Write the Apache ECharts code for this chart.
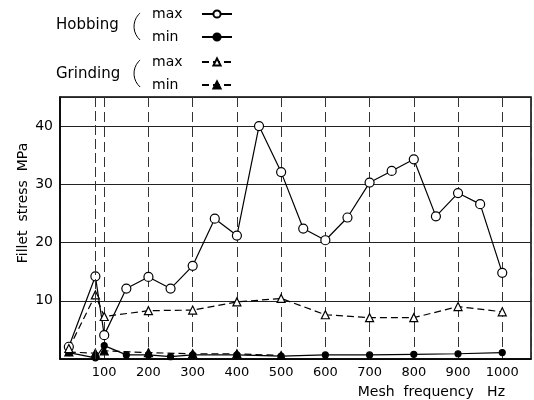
<!DOCTYPE html>
<html>
<head>
<meta charset="utf-8">
<script src="https://cdn.jsdelivr.net/npm/echarts@6/dist/echarts.min.js"></script>
<style>html,body{margin:0;padding:0;background:#fff;}#c{width:534px;height:400px;}</style>
</head>
<body>
<div id="c"></div>
<script>
var hobbingMax = [[20,2.1],[80,14.2],[100,4.1],[150,12.1],[200,14.1],[250,12.1],[300,16.0],[350,24.1],[400,21.2],[450,40.0],[500,32.1],[550,22.4],[600,20.4],[650,24.3],[700,30.3],[750,32.3],[800,34.3],[850,24.5],[900,28.5],[950,26.6],[1000,14.8]];
var hobbingMin = [[20,1.1],[80,0.2],[100,2.3],[150,0.7],[200,0.7],[250,0.4],[300,0.7],[400,0.7],[500,0.5],[600,0.7],[700,0.7],[800,0.8],[900,0.9],[1000,1.1]];
var grindingMax = [[20,1.8],[80,11.0],[100,7.3],[200,8.3],[300,8.4],[400,9.8],[500,10.4],[600,7.6],[700,7.1],[800,7.1],[900,9.0],[1000,8.1]];
var grindingMin = [[20,1.2],[80,1.0],[100,1.4],[200,1.1],[300,0.9],[400,0.9],[500,0.6]];
var xTicks = [100,200,300,400,500,600,700,800,900,1000];
var yTicks = [10,20,30,40];

var FONT = 'DejaVu Sans';
var chart = echarts.init(document.getElementById('c'));
function mk(name, data, lineType, symbol, filled, size) {
  return {
    name: name, type: 'line', data: data, symbol: symbol, symbolSize: size,
    showAllSymbol: true, animation: false,
    lineStyle: {color: '#000', width: 1.2, type: lineType},
    itemStyle: {color: filled ? '#000' : '#fff', borderColor: '#000', borderWidth: 1.2},
    z: filled ? 3 : 4
  };
}
var legendCommon = {
  left: 147, orient: 'vertical', align: 'right', itemWidth: 30, itemHeight: 9, itemGap: 9,
  formatter: function (n) { return '{a|' + n.split(' ')[1] + '}'; },
  textStyle: {fontFamily: FONT, fontSize: 14, color: '#000', lineHeight: 14,
    rich: {a: {fontFamily: FONT, fontSize: 14, color: '#000', width: 45, height: 14, align: 'left'}}},
  inactiveColor: '#000'
};
var series = [
  mk('Hobbing max', hobbingMax, 'solid', 'circle', false, 9),
  mk('Hobbing min', hobbingMin, 'solid', 'circle', true, 6),
  mk('Grinding max', grindingMax, [7, 4], 'triangle', false, 8),
  mk('Grinding min', grindingMin, [7, 4], 'triangle', true, 8)
];
series[0].markLine = {
  silent: true, symbol: 'none', label: {show: false}, animation: false,
  lineStyle: {color: '#333', width: 1, type: [10, 4]},
  data: [{xAxis: 80}]
};
chart.setOption({
  backgroundColor: '#fff',
  animation: false,
  grid: {left: 60, right: 3, top: 97, bottom: 41, show: true, borderColor: '#000', borderWidth: 1.5, backgroundColor: 'transparent'},
  legend: [
    Object.assign({}, legendCommon, {top: 2, data: ['Hobbing max', 'Hobbing min']}),
    Object.assign({}, legendCommon, {top: 50, data: ['Grinding max', 'Grinding min']})
  ],
  xAxis: {
    type: 'value', min: 0, max: 1065, interval: 100,
    axisLine: {lineStyle: {color: '#000', width: 1.5}},
    axisTick: {show: false},
    axisLabel: {fontFamily: FONT, fontSize: 13, color: '#000', margin: 7, showMinLabel: false, showMaxLabel: false,
      formatter: function (v) { return xTicks.indexOf(v) >= 0 ? String(v) : ''; }},
    splitLine: {show: true, lineStyle: {color: '#333', width: 1, type: [10, 5]}}
  },
  yAxis: {
    type: 'value', min: 0, max: 45, interval: 10,
    axisLine: {lineStyle: {color: '#000', width: 1.5}},
    axisTick: {show: false},
    axisLabel: {fontFamily: FONT, fontSize: 14, color: '#000', margin: 7, showMinLabel: false, showMaxLabel: false,
      formatter: function (v) { return yTicks.indexOf(v) >= 0 ? String(v) : ''; }},
    splitLine: {show: true, lineStyle: {color: '#222', width: 1.2}}
  },
  graphic: [
    {type: 'text', left: 56, top: 18, style: {text: 'Hobbing', font: '15px "DejaVu Sans"', fill: '#000'}},
    {type: 'text', left: 56, top: 67, style: {text: 'Grinding', font: '15px "DejaVu Sans"', fill: '#000'}},
    {type: 'arc', shape: {cx: 152, cy: 26.5, r: 18, startAngle: 2.29, endAngle: 3.99, clockwise: true}, style: {stroke: '#000', lineWidth: 1, fill: null}},
    {type: 'arc', shape: {cx: 152, cy: 73.5, r: 18, startAngle: 2.29, endAngle: 3.99, clockwise: true}, style: {stroke: '#000', lineWidth: 1, fill: null}},
    {type: 'text', x: 23, y: 203, rotation: Math.PI / 2, style: {text: 'Fillet  stress  MPa', font: '14px "DejaVu Sans"', fill: '#000', align: 'center', verticalAlign: 'middle'}},
    {type: 'text', x: 505, y: 392, style: {text: 'Mesh  frequency   Hz', font: '14px "DejaVu Sans"', fill: '#000', align: 'right', verticalAlign: 'middle'}}
  ],
  series: series
});
</script>
</body>
</html>
